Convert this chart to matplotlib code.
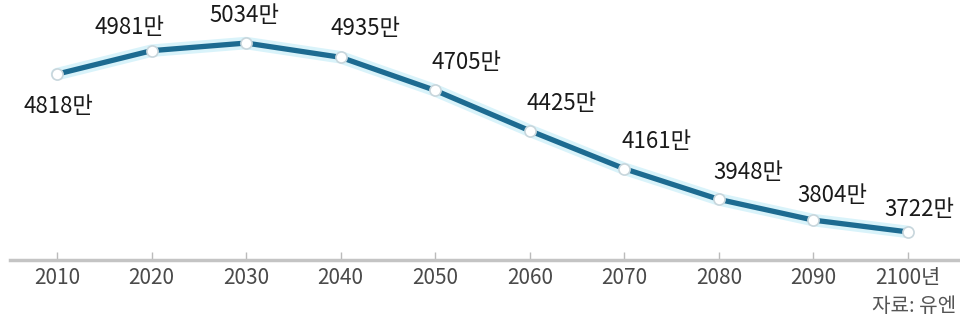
import matplotlib
matplotlib.use('Agg')
import matplotlib.pyplot as plt

plt.rcParams['font.family'] = ['Noto Sans CJK KR', 'DejaVu Sans']

# 데이터
years = [2010, 2020, 2030, 2040, 2050, 2060, 2070, 2080, 2090, 2100]
population = [4818, 4981, 5034, 4935, 4705, 4425, 4161, 3948, 3804, 3722]
labels = [f'{v}만' for v in population]
year_labels = [str(y) for y in years[:-1]] + ['2100년']
# 라벨 위치 (픽셀 오프셋)
offsets = [(1, -32), (-22, 23), (-2, 28), (25, 29), (31, 28),
           (32, 27), (32, 27), (29, 27), (19, 25), (11, 22)]

fig = plt.figure(figsize=(9.6, 3.2), dpi=100)
ax = fig.add_axes([10 / 960, 60 / 320, 950 / 960, 260 / 320])
ax.set_xlim(2005.03, 2105.5)
ax.set_ylim(3527, 5333)

# 선
ax.plot(years, population, color='#d9f3fa', linewidth=9, solid_capstyle='round', zorder=1)
ax.plot(years, population, color='#1d6b91', linewidth=3.8, zorder=2)
ax.plot(years, population, linestyle='none', marker='o', markersize=8,
        markerfacecolor='white', markeredgecolor='#c8d6dc', markeredgewidth=1.2, zorder=3)

for x, y, t, (dx, dy) in zip(years, population, labels, offsets):
    ax.annotate(t, xy=(x, y), xytext=(dx, dy), textcoords='offset pixels',
                ha='center', va='center', fontsize=16, color='#1a1a1a')

# 축
for s in ['top', 'right', 'left']:
    ax.spines[s].set_visible(False)
ax.spines['bottom'].set_color('#c4c4c4')
ax.spines['bottom'].set_linewidth(2.5)
ax.set_yticks([])
ax.set_xticks(years)
ax.set_xticklabels(year_labels)
ax.tick_params(axis='x', direction='in', length=6, width=1, color='#bbbbbb',
               labelsize=15, labelcolor='#4a4a4a', pad=5)

fig.text(872 / 960, 1 - 306 / 320, '자료: 유엔', ha='left', va='center',
         fontsize=14.5, color='#555555')

plt.savefig('out.png', dpi=100)
